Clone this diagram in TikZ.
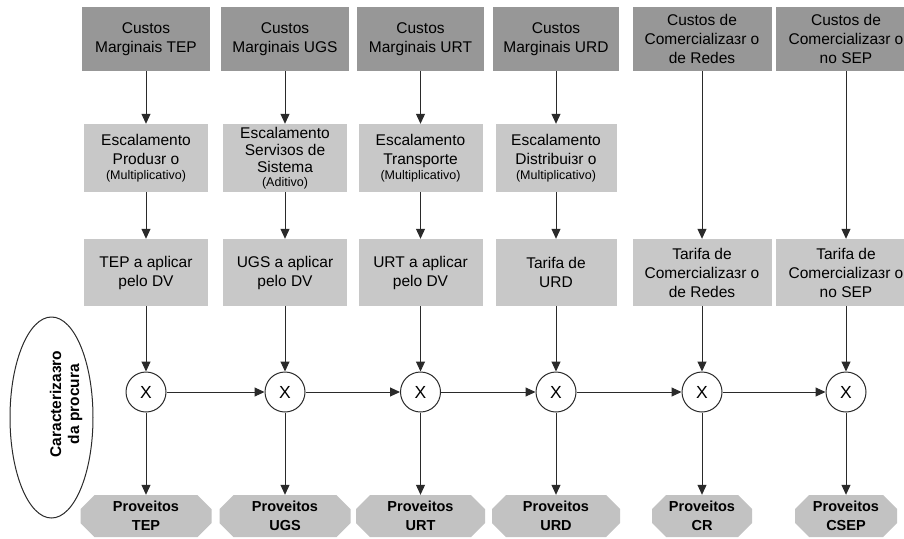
\documentclass[tikz,border=0pt]{standalone}
\usepackage{fontspec}
\setmainfont{Liberation Sans}
\usetikzlibrary{arrows.meta,shapes.geometric}
\definecolor{escuro}{HTML}{979797}
\definecolor{claro}{HTML}{C8C8C8}
\definecolor{prov}{HTML}{C2C2C2}
\definecolor{linha}{HTML}{2A2A2A}
\def\sm#1{{\fontsize{12.5}{14}\selectfont #1}}
\begin{document}
\begin{tikzpicture}[x=1pt, y=-1pt, line join=round, >={Triangle[length=10pt,width=9pt]}, font=\fontsize{15.5}{19}\selectfont]
	\tikzset{
		cust/.style={fill=escuro, align=center, inner sep=0pt, minimum height=64pt},
		esc/.style={fill=claro, align=center, inner sep=0pt, minimum height=68pt},
		tar/.style={fill=claro, align=center, inner sep=0pt, minimum height=67pt},
		mult/.style={circle, draw=linha, line width=1pt, fill=white, minimum size=40pt, inner sep=0pt, font=\fontsize{17.5}{19}\selectfont},
		proveito/.style={align=center, inner sep=0pt, minimum height=42pt, font=\fontsize{14.5}{19}\selectfont\bfseries,
			path picture={\fill[prov] ([xshift=14pt]path picture bounding box.north west) -- ([xshift=-14pt]path picture bounding box.north east)
				-- ([yshift=-14pt]path picture bounding box.north east) -- ([yshift=14pt]path picture bounding box.south east)
				-- ([xshift=-14pt]path picture bounding box.south east) -- ([xshift=14pt]path picture bounding box.south west)
				-- ([yshift=14pt]path picture bounding box.south west) -- ([yshift=-14pt]path picture bounding box.north west) -- cycle;}},
		seta/.style={->, draw=linha, line width=1pt}
	}
	\useasboundingbox (0,0) rectangle (904,538);
	\clip (0,0) rectangle (904,538);
	% custos
	\node[cust, minimum width=128pt] (c1) at (146,39) {Custos\\Marginais TEP};
	\node[cust, minimum width=128pt] (c2) at (285,39) {Custos\\Marginais UGS};
	\node[cust, minimum width=127pt] (c3) at (420.5,39) {Custos\\Marginais URT};
	\node[cust, minimum width=126pt] (c4) at (556,39) {Custos\\Marginais URD};
	\node[cust, minimum width=139pt] (c5) at (702,39) {Custos de\\Comercializaзr o\\de Redes};
	\node[cust, minimum width=140pt] (c6) at (846,39) {Custos de\\Comercializaзr o\\no SEP};
	% escalamentos
	\node[esc, minimum width=124pt] (e1) at (146,158) {Escalamento\\Produзr o\\[-4pt]\sm{(Multiplicativo)}};
	\node[esc, minimum width=124pt, font=\fontsize{15.5}{17}\selectfont] (e2) at (285,158) {Escalamento\\Serviзos de\\Sistema\\[-3pt]\sm{(Aditivo)}};
	\node[esc, minimum width=124pt] (e3) at (420.5,158) {Escalamento\\Transporte\\[-4pt]\sm{(Multiplicativo)}};
	\node[esc, minimum width=121pt] (e4) at (556,158) {Escalamento\\Distribuiзr o\\[-4pt]\sm{(Multiplicativo)}};
	% tarifas
	\node[tar, minimum width=124pt] (t1) at (146,272.5) {TEP a aplicar\\pelo DV};
	\node[tar, minimum width=124pt] (t2) at (285,272.5) {UGS a aplicar\\pelo DV};
	\node[tar, minimum width=124pt] (t3) at (420.5,272.5) {URT a aplicar\\pelo DV};
	\node[tar, minimum width=121pt] (t4) at (556,272.5) {Tarifa de\\URD};
	\node[tar, minimum width=139pt] (t5) at (702,272.5) {Tarifa de\\Comercializaзr o\\de Redes};
	\node[tar, minimum width=140pt] (t6) at (846,272.5) {Tarifa de\\Comercializaзr o\\no SEP};
	% multiplicadores
	\node[mult] (x1) at (146,392) {X};
	\node[mult] (x2) at (285,392) {X};
	\node[mult] (x3) at (420.5,392) {X};
	\node[mult] (x4) at (556,392) {X};
	\node[mult] (x5) at (702,392) {X};
	\node[mult] (x6) at (846,392) {X};
	% proveitos
	\node[proveito, minimum width=131pt] (p1) at (146,516) {Proveitos\\TEP};
	\node[proveito, minimum width=131pt] (p2) at (285,516) {Proveitos\\UGS};
	\node[proveito, minimum width=129pt] (p3) at (420.5,516) {Proveitos\\URT};
	\node[proveito, minimum width=128pt] (p4) at (556,516) {Proveitos\\URD};
	\node[proveito, minimum width=100pt] (p5) at (702,516) {Proveitos\\CR};
	\node[proveito, minimum width=102pt] (p6) at (846,516) {Proveitos\\CSEP};
	% procura
	\node[ellipse, draw=linha, line width=1pt, minimum width=83pt, minimum height=201pt, inner sep=0pt] (car) at (51.5,417.5) {};
	\node[rotate=90, align=center, font=\fontsize{15.5}{18}\selectfont\bfseries] (cartxt) at (66,404) {Caracterizaзro\\da procura};
	% setas
	\foreach \i in {1,...,4} \draw[seta] (c\i) -- (e\i);
	\foreach \i in {1,...,4} \draw[seta] (e\i) -- (t\i);
	\draw[seta] (c5) -- (t5);
	\draw[seta] (c6) -- (t6);
	\foreach \i in {1,...,6} \draw[seta] (t\i) -- (x\i);
	\foreach \i in {1,...,6} \draw[seta] (x\i) -- (p\i);
	\foreach \i/\j in {1/2,2/3,3/4,4/5,5/6} \draw[seta] (x\i) -- (x\j);
\end{tikzpicture}
\end{document}
